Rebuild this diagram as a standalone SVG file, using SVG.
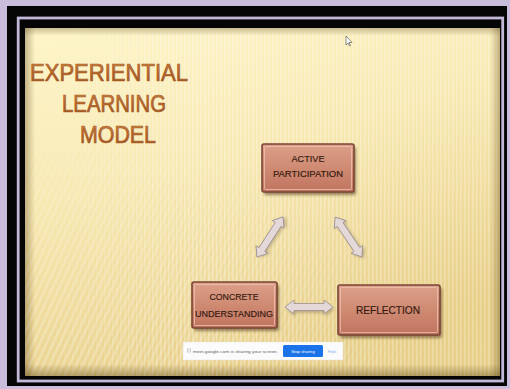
<svg xmlns="http://www.w3.org/2000/svg" width="510" height="389" viewBox="0 0 510 389">
<defs>
<linearGradient id="slideBg" x1="0" y1="0" x2="0.35" y2="1">
<stop offset="0" stop-color="#fdf5c9"/>
<stop offset="0.45" stop-color="#f8e9b2"/>
<stop offset="1" stop-color="#e8cf88"/>
</linearGradient>
<linearGradient id="edgeL" x1="0" y1="0" x2="1" y2="0">
<stop offset="0" stop-color="#5a4010" stop-opacity="0.35"/>
<stop offset="1" stop-color="#5a4010" stop-opacity="0"/>
</linearGradient>
<linearGradient id="edgeR" x1="1" y1="0" x2="0" y2="0">
<stop offset="0" stop-color="#5a4010" stop-opacity="0.35"/>
<stop offset="1" stop-color="#5a4010" stop-opacity="0"/>
</linearGradient>
<linearGradient id="edgeT" x1="0" y1="0" x2="0" y2="1">
<stop offset="0" stop-color="#5a4010" stop-opacity="0.3"/>
<stop offset="1" stop-color="#5a4010" stop-opacity="0"/>
</linearGradient>
<linearGradient id="edgeB" x1="0" y1="1" x2="0" y2="0">
<stop offset="0" stop-color="#5a4010" stop-opacity="0.4"/>
<stop offset="1" stop-color="#5a4010" stop-opacity="0"/>
</linearGradient>
<pattern id="vstripes" width="4" height="10" patternUnits="userSpaceOnUse">
<rect x="0" y="0" width="1.6" height="10" fill="#ffffff"/>
</pattern>
<pattern id="dstripes" width="6" height="6" patternUnits="userSpaceOnUse" patternTransform="rotate(25)">
<rect x="0" y="0" width="2.5" height="6" fill="#ffffff"/>
</pattern>
<linearGradient id="fadeV" x1="0" y1="0" x2="1" y2="0">
<stop offset="0" stop-color="#fff" stop-opacity="0"/>
<stop offset="0.35" stop-color="#fff" stop-opacity="0.3"/>
<stop offset="1" stop-color="#fff" stop-opacity="0.25"/>
</linearGradient>
<radialGradient id="fadeD" cx="0" cy="1" r="1">
<stop offset="0" stop-color="#fff" stop-opacity="0.3"/>
<stop offset="1" stop-color="#fff" stop-opacity="0"/>
</radialGradient>
<mask id="mV"><rect x="25" y="28" width="475" height="348" fill="url(#fadeV)"/></mask>
<mask id="mD"><rect x="25" y="28" width="475" height="348" fill="url(#fadeD)"/></mask>
<linearGradient id="titleGrad" x1="0" y1="0" x2="0" y2="1">
<stop offset="0" stop-color="#d08c48"/>
<stop offset="0.5" stop-color="#b5652a"/>
<stop offset="1" stop-color="#98501f"/>
</linearGradient>
<linearGradient id="nodeGrad" x1="0" y1="0" x2="0" y2="1">
<stop offset="0" stop-color="#dca08a"/>
<stop offset="0.5" stop-color="#cf8a72"/>
<stop offset="1" stop-color="#c07460"/>
</linearGradient>
<filter id="shadow" x="-20%" y="-20%" width="140%" height="150%">
<feGaussianBlur stdDeviation="1.5"/>
</filter>
</defs>
<style>
.title{font-family:"Liberation Sans",Arial,sans-serif;font-size:24px;fill:url(#titleGrad);stroke:#a85c26;stroke-width:0.7;text-anchor:middle}
.lbl{font-family:"Liberation Sans",Arial,sans-serif;fill:#33190f;stroke:#33190f;stroke-width:0.15;text-anchor:middle}
.box{fill:url(#nodeGrad);stroke:#7a4535;stroke-width:1.6}
.bevel{fill:none;stroke:#f2c8b6;stroke-width:1;opacity:0.7}
.shd{fill:#4a3015;opacity:0.55;filter:url(#shadow)}
.arrow{fill:#e4d8d8;stroke:#9a8e90;stroke-width:0.8}
.ashd{fill:#6a5a40;opacity:0.35;filter:url(#shadow)}
</style>
<rect x="0" y="0" width="510" height="389" fill="#c9bddb"/>
<rect x="7" y="6" width="500" height="380" fill="#050505"/>
<rect x="18.2" y="18" width="484.5" height="363" fill="none" stroke="#c4b8d8" stroke-width="2.8"/>
<rect x="25" y="28" width="475" height="348" fill="url(#slideBg)"/>
<rect x="25" y="28" width="475" height="348" fill="url(#vstripes)" mask="url(#mV)"/>
<rect x="25" y="28" width="475" height="348" fill="url(#dstripes)" mask="url(#mD)"/>
<rect x="25" y="28" width="10" height="348" fill="url(#edgeL)"/>
<rect x="490" y="28" width="10" height="348" fill="url(#edgeR)"/>
<rect x="25" y="28" width="475" height="8" fill="url(#edgeT)"/>
<rect x="25" y="364" width="475" height="12" fill="url(#edgeB)"/>
<path d="M346,36 l0,9 l2,-2 l1.5,3 l1,-0.5 l-1.5,-3 l3,0 z" fill="#ffffff" stroke="#444" stroke-width="0.6"/>
<g id="title">
<text class="title" x="109" y="81" textLength="158" lengthAdjust="spacingAndGlyphs">EXPERIENTIAL</text>
<text class="title" x="114" y="112" textLength="104" lengthAdjust="spacingAndGlyphs">LEARNING</text>
<text class="title" x="118" y="143" textLength="76" lengthAdjust="spacingAndGlyphs">MODEL</text>
</g>
<g id="connectors">
<g transform="translate(270,237) rotate(-57)">
<polygon class="ashd" transform="translate(1.5,2.5)" points="-24,0 -15,-7 -15,-3.5 15,-3.5 15,-7 24,0 15,7 15,3.5 -15,3.5 -15,7"/>
<polygon class="arrow" points="-24,0 -15,-7 -15,-3.5 15,-3.5 15,-7 24,0 15,7 15,3.5 -15,3.5 -15,7"/>
</g>
<g transform="translate(348.5,237) rotate(56)">
<polygon class="ashd" transform="translate(2.5,-1)" points="-24,0 -15,-7 -15,-3.5 15,-3.5 15,-7 24,0 15,7 15,3.5 -15,3.5 -15,7"/>
<polygon class="arrow" points="-24,0 -15,-7 -15,-3.5 15,-3.5 15,-7 24,0 15,7 15,3.5 -15,3.5 -15,7"/>
</g>
<g transform="translate(309,307)">
<polygon class="ashd" transform="translate(1.5,2.5)" points="-24,0 -15,-7 -15,-3.5 15,-3.5 15,-7 24,0 15,7 15,3.5 -15,3.5 -15,7"/>
<polygon class="arrow" points="-24,0 -15,-7 -15,-3.5 15,-3.5 15,-7 24,0 15,7 15,3.5 -15,3.5 -15,7"/>
</g>
</g>
<g id="active-participation">
<rect class="shd" x="264" y="147" width="92" height="48" rx="2"/>
<rect class="box" x="262" y="144" width="92" height="48" rx="2"/>
<rect class="bevel" x="264.5" y="146.5" width="87" height="43" rx="1"/>
<text class="lbl" x="308" y="162" font-size="9.2">ACTIVE</text>
<text class="lbl" x="308" y="177" font-size="9.2" textLength="70" lengthAdjust="spacingAndGlyphs">PARTICIPATION</text>
</g>
<g id="concrete-understanding">
<rect class="shd" x="194" y="285" width="85" height="46" rx="2"/>
<rect class="box" x="192" y="282" width="85" height="46" rx="2"/>
<rect class="bevel" x="194.5" y="284.5" width="80" height="41" rx="1"/>
<text class="lbl" x="234" y="300" font-size="9.5" textLength="49" lengthAdjust="spacingAndGlyphs">CONCRETE</text>
<text class="lbl" x="234" y="317" font-size="9.5" textLength="78" lengthAdjust="spacingAndGlyphs">UNDERSTANDING</text>
</g>
<g id="reflection">
<rect class="shd" x="340" y="288" width="102" height="50" rx="2"/>
<rect class="box" x="338" y="285" width="102" height="50" rx="2"/>
<rect class="bevel" x="340.5" y="287.5" width="97" height="45" rx="1"/>
<text class="lbl" x="388" y="314" font-size="10.5" textLength="64" lengthAdjust="spacingAndGlyphs">REFLECTION</text>
</g>
<g id="share-banner">
<rect x="183" y="342" width="160" height="18" fill="#fbfbfb" stroke="#e6e2d8" stroke-width="0.5"/>
<rect x="187.5" y="349" width="3" height="3" fill="none" stroke="#9aa0a6" stroke-width="0.5"/>
<text x="193" y="353" font-family="Liberation Sans, Arial, sans-serif" font-size="4" fill="#5f6368" textLength="85" lengthAdjust="spacingAndGlyphs">meet.google.com is sharing your screen.</text>
<rect x="283" y="345" width="40" height="12" rx="1.5" fill="#1a73e8"/>
<text x="303" y="353" font-family="Liberation Sans, Arial, sans-serif" font-size="4.2" fill="#ffffff" text-anchor="middle">Stop sharing</text>
<text x="332" y="353" font-family="Liberation Sans, Arial, sans-serif" font-size="4.2" fill="#8ab4f8" text-anchor="middle">Hide</text>
</g>
</svg>
